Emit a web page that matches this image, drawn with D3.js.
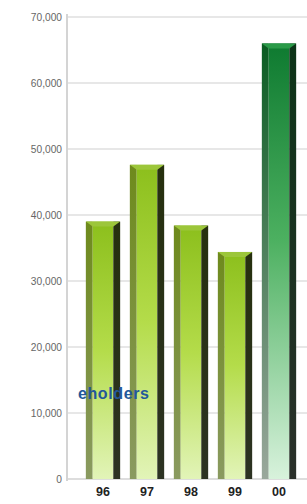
<!DOCTYPE html>
<html><head><meta charset="utf-8">
<script src="https://cdn.jsdelivr.net/npm/d3@7"></script>
<style>body{margin:0;background:#fff}svg{display:block}</style>
</head><body>
<script>
const categories = ["96","97","98","99","00"];
const values = [39000, 47600, 38400, 34400, 66000];
const yTicks = [0,10000,20000,30000,40000,50000,60000,70000];
const legendText = "eholders";

const W=307,H=504;
const svg=d3.select("body").append("svg").attr("width",W).attr("height",H);
const y=d3.scaleLinear().domain([0,70000]).range([479,17]);
const x=d3.scaleBand().domain(categories).range([81,301]).paddingInner(0.22).paddingOuter(0.11);
const axisX=67;

const defs=svg.append("defs");
function grad(id,stops,vertical=true){
  const g=defs.append("linearGradient").attr("id",id).attr("x1",0).attr("y1",0).attr("x2",vertical?0:1).attr("y2",vertical?1:0);
  stops.forEach(s=>g.append("stop").attr("offset",s[0]).attr("stop-color",s[1]));
}
grad("ygMid",[[0,"#8cbf1c"],[0.5,"#b4dc4a"],[1,"#e2f4b8"]]);
grad("ygL",[[0,"#6e8a1c"],[1,"#8a9a60"]]);
grad("ygR",[[0,"#26300e"],[1,"#2c3222"]]);
grad("gMid",[[0,"#0e7a30"],[0.45,"#4cb060"],[1,"#d8f2dc"]]);
grad("gL",[[0,"#0a5c22"],[1,"#9aa89c"]]);
grad("gR",[[0,"#0c3418"],[1,"#2a302a"]]);

// gridlines
svg.append("g").selectAll("line").data(yTicks).join("line")
  .attr("x1",axisX).attr("x2",W).attr("y1",d=>y(d)).attr("y2",d=>y(d))
  .attr("stroke",d=>d===0?"#bbb":"#d0d0d0").attr("stroke-width",1.2);
// axis line
svg.append("line").attr("x1",axisX).attr("x2",axisX).attr("y1",y(70000)-3).attr("y2",y(0)+2)
  .attr("stroke","#d4d4d4").attr("stroke-width",2);
// tick labels
svg.append("g").selectAll("text").data(yTicks).join("text")
  .attr("x",62).attr("y",d=>y(d)+3.5).attr("text-anchor","end")
  .attr("font-family","Liberation Sans, Arial, sans-serif").attr("font-size",10.2)
  .attr("fill","#666").text(d=>d3.format(",")(d));

// bars
const bars=svg.append("g").selectAll("g").data(categories.map((c,i)=>({c,v:values[i],i}))).join("g");
bars.each(function(d){
  const g=d3.select(this);
  const bw=x.bandwidth(), x0=x(d.c), yt=y(d.v), yb=y(0);
  const lw=bw*0.2, rw=bw*0.2, bev=5;
  const green=d.c==="00";
  g.append("rect").attr("x",x0).attr("y",yt).attr("width",lw).attr("height",yb-yt).attr("fill",`url(#${green?"gL":"ygL"})`);
  g.append("rect").attr("x",x0+lw).attr("y",yt).attr("width",bw-lw-rw).attr("height",yb-yt).attr("fill",`url(#${green?"gMid":"ygMid"})`);
  g.append("rect").attr("x",x0+bw-rw).attr("y",yt).attr("width",rw).attr("height",yb-yt).attr("fill",`url(#${green?"gR":"ygR"})`);
  g.append("polygon").attr("points",[[x0,yt],[x0+bw,yt],[x0+bw-rw,yt+bev],[x0+lw,yt+bev]].map(p=>p.join(",")).join(" "))
    .attr("fill",green?"#2a9a48":"#9cc63a");
});

// category labels
svg.append("g").selectAll("text").data(categories).join("text")
  .attr("x",d=>x(d)+x.bandwidth()/2).attr("y",496).attr("text-anchor","middle")
  .attr("font-family","Liberation Sans, Arial, sans-serif").attr("font-size",12.5).attr("font-weight","bold")
  .attr("fill","#222").text(d=>d);

// legend fragment
svg.append("text").attr("x",78).attr("y",399).attr("font-family","Liberation Sans, Arial, sans-serif")
  .attr("font-size",16).attr("font-weight","bold").attr("letter-spacing",0.6).attr("fill","#23589a").text(legendText);
</script>
</body></html>
